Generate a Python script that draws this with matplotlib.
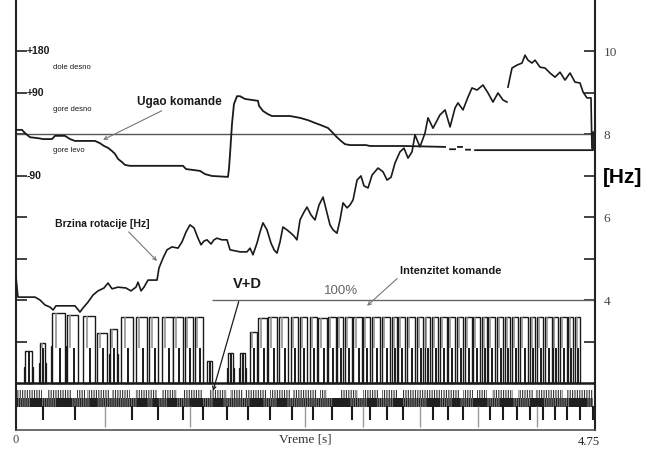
import numpy as np
import matplotlib
matplotlib.use("Agg")
import matplotlib.pyplot as plt
from matplotlib.patches import Rectangle

plt.rcParams["hatch.linewidth"] = 0.8

# ---- rotation speed [Hz] ----
speed_t = [0.000, 0.016, 0.156, 0.197, 0.238, 0.279, 0.304, 0.328, 0.484, 0.525,
           0.550, 0.591, 0.632, 0.673, 0.722, 0.755, 0.788, 0.837, 0.902, 0.943,
           0.984, 1.001, 1.026, 1.050, 1.083, 1.157, 1.173, 1.206, 1.239, 1.280,
           1.329, 1.362, 1.395, 1.427, 1.460, 1.493, 1.518, 1.542, 1.567, 1.600,
           1.624, 1.649, 1.690, 1.731, 1.756, 1.838, 1.895, 1.920, 1.944, 1.977,
           2.002, 2.026, 2.059, 2.092, 2.117, 2.141, 2.166, 2.190, 2.223, 2.256,
           2.281, 2.305, 2.330, 2.363, 2.387, 2.420, 2.453, 2.486, 2.519, 2.551,
           2.576, 2.601, 2.633, 2.658, 2.683, 2.716, 2.740, 2.765, 2.798, 2.830,
           2.855, 2.888, 2.921, 2.970, 3.011, 3.044, 3.077, 3.109, 3.150, 3.183,
           3.216, 3.249, 3.273, 3.314, 3.355, 3.380, 3.421, 3.478, 3.520, 3.561,
           3.602, 3.626, 3.667, 3.708, 3.741, 3.782, 3.831, 3.872, 3.913, 3.954,
           3.995, 4.028, 4.032, 4.036, 4.069, 4.110, 4.151, 4.176, 4.200, 4.233,
           4.258, 4.299, 4.340, 4.381, 4.422, 4.463, 4.504, 4.545, 4.586, 4.627,
           4.652, 4.684, 4.717, 4.725]
speed_hz = [4.55, 4.07, 4.07, 4.00, 3.88, 3.83, 3.76, 3.86, 3.86, 3.71,
            3.81, 3.95, 4.12, 4.22, 4.29, 4.41, 4.27, 4.31, 4.29, 4.22,
            4.31, 4.43, 4.22, 4.31, 4.48, 4.48, 4.77, 5.01, 5.21, 5.28,
            5.25, 5.40, 5.64, 5.81, 5.74, 5.49, 5.33, 5.42, 5.45, 5.35,
            5.45, 5.49, 5.45, 5.45, 5.21, 5.16, 5.16, 5.25, 5.09, 5.37,
            5.64, 5.86, 5.69, 5.37, 5.21, 5.13, 5.40, 5.76, 5.69, 5.61,
            5.54, 5.45, 5.93, 6.12, 6.24, 6.05, 5.93, 6.29, 6.48, 6.10,
            5.81, 5.69, 5.61, 5.93, 6.34, 6.22, 6.29, 6.41, 6.89, 6.99,
            6.75, 6.70, 7.01, 7.18, 7.09, 6.89, 6.96, 7.30, 7.57, 7.66,
            7.42, 7.57, 7.98, 7.69, 8.02, 8.39, 8.14, 8.46, 8.58, 8.17,
            8.63, 8.75, 8.58, 8.89, 9.11, 9.06, 9.18, 8.99, 8.77, 8.99,
            8.82, 8.77, np.nan, 9.13, 9.59, 9.66, 9.71, 9.90, 9.78, 9.71,
            9.78, 9.61, 9.59, 9.47, 9.37, 9.49, 9.30, 9.47, 9.25, 9.23,
            9.01, 8.87, 8.87, 7.66]

# ---- command angle [deg] ----
angle_t = [0.000, 0.049, 0.074, 0.115, 0.180, 0.222, 0.295, 0.320, 0.402, 0.443,
           0.484, 0.648, 0.689, 0.722, 0.755, 0.788, 0.812, 0.837, 0.870, 0.894,
           0.935, 1.370, 1.395, 1.510, 1.551, 1.608, 1.739, 1.747, 1.756, 1.772,
           1.788, 1.813, 1.838, 1.879, 1.985, 1.994, 2.026, 2.067, 2.100, 2.248,
           2.330, 2.396, 2.453, 2.494, 2.560, 2.601, 2.633, 2.666, 2.699, 2.740,
           2.871, 2.904, 2.986, 3.191, 3.520, 3.540, 3.561, 3.602, 3.614, 3.626,
           3.659, 3.675, 3.692, 3.725, 3.745, 3.766, 4.545, 4.627, 4.734, 4.734]
angle_deg = [9, 9, 2, -7, -9, -11, -11, -4, -4, -11,
             -15, -15, -20, -26, -30, -37, -43, -54, -61, -67,
             -69, -69, -76, -80, -87, -91, -93, -76, -43, 22,
             65, 82, 82, 76, 72, 61, 50, 43, 39, 39,
             35, 30, 24, 20, 13, 2, -7, -15, -22, -24,
             -24, -26, -26, -26, -28, np.nan, -33, -33, np.nan, -28,
             -28, np.nan, -34, -34, np.nan, -35, -35, -35, -35, 4]

# ---- command intensity pulses [%] ----
pulse_start = [0.074, 0.197, 0.295, 0.418, 0.550, 0.665, 0.771, 0.861, 0.984, 1.091,
               1.198, 1.288, 1.387, 1.469, 1.567, 1.739, 1.838, 1.920, 1.985, 2.067,
               2.158, 2.256, 2.330, 2.412, 2.478, 2.560, 2.633, 2.699, 2.765, 2.847,
               2.921, 3.003, 3.085, 3.134, 3.208, 3.290, 3.355, 3.413, 3.478, 3.544,
               3.618, 3.684, 3.749, 3.823, 3.872, 3.946, 4.012, 4.069, 4.135, 4.217,
               4.274, 4.340, 4.405, 4.463, 4.529, 4.586]
pulse_end = [0.131, 0.238, 0.402, 0.509, 0.648, 0.747, 0.829, 0.960, 1.075, 1.165,
             1.288, 1.370, 1.452, 1.534, 1.608, 1.780, 1.879, 1.977, 2.059, 2.141,
             2.231, 2.314, 2.387, 2.469, 2.551, 2.625, 2.683, 2.757, 2.839, 2.904,
             2.986, 3.068, 3.126, 3.191, 3.273, 3.339, 3.396, 3.462, 3.536, 3.602,
             3.667, 3.741, 3.807, 3.864, 3.930, 3.995, 4.053, 4.118, 4.200, 4.258,
             4.323, 4.397, 4.447, 4.520, 4.570, 4.627]
pulse_level = [38, 48, 84, 82, 81, 60, 65, 80, 80, 80,
               80, 80, 80, 80, 26, 36, 36, 61, 78, 80,
               80, 80, 80, 80, 78, 80, 80, 80, 80, 80,
               80, 80, 80, 80, 80, 80, 80, 80, 80, 80,
               80, 80, 80, 80, 80, 80, 80, 80, 80, 80,
               80, 80, 80, 80, 80, 79]
pedestal_start = [0.066, 0.189, 0.287, 0.763, 1.731, 1.830]
pedestal_end = [0.139, 0.246, 0.410, 0.837, 1.788, 1.887]
pedestal_level = [19, 24, 45, 35, 18, 18]

# ---- valve pulse train ----
comb_start = [0.008, 0.262, 0.500, 0.582, 0.788, 0.976, 1.198, 1.370, 1.592, 1.756,
              1.879, 2.084, 2.272, 2.494, 2.658, 2.847, 3.003, 3.167, 3.503, 3.667,
              3.782, 3.905, 4.118, 4.258, 4.520]
comb_end = [0.213, 0.459, 0.566, 0.771, 0.935, 1.157, 1.321, 1.534, 1.731, 1.862,
            2.059, 2.248, 2.469, 2.551, 2.806, 2.970, 3.134, 3.495, 3.643, 3.749,
            3.864, 4.077, 4.241, 4.488, 4.734]
block_start = [0.115, 0.336, 0.607, 0.993, 1.124, 1.239, 1.427, 1.616, 1.920, 2.141,
               2.601, 2.880, 3.093, 3.372, 3.577, 3.749, 3.971, 4.217, 4.545]
block_end = [0.213, 0.459, 0.665, 1.075, 1.165, 1.321, 1.534, 1.698, 2.026, 2.223,
             2.740, 2.962, 3.175, 3.478, 3.643, 3.864, 4.077, 4.323, 4.684]
spike_t = [0.222, 0.484, 0.952, 1.165, 1.370, 1.534, 1.731, 1.903, 2.084, 2.264,
           2.437, 2.592, 2.757, 2.904, 3.044, 3.175, 3.421, 3.544, 3.667, 3.889,
           3.995, 4.110, 4.217, 4.323, 4.422, 4.520, 4.627, 4.734]
faint_spike_t = [0.730, 1.427, 2.371, 2.847, 3.314, 3.790, 4.274]

# ---- axis labels ----
hz_ticks = [3, 4, 5, 6, 7, 8, 9, 10]
hz_tick_labels = ["", "4", "", "6", "[Hz]", "8", "", "10"]
angle_marks = [180, 90, -90]
angle_mark_labels = ["+180", "+90", "-90"]
quadrant_angles = [135, 45, -45]
quadrant_names = ["dole desno", "gore desno", "gore levo"]
t_end = 4.75


def angle_to_hz(a):
    return 8 + np.asarray(a, dtype=float) / 90.0


def pct_to_hz(p):
    return 2 + 2 * np.asarray(p, dtype=float) / 100.0


fig = plt.figure(figsize=(6.54, 4.54), dpi=100)
ax = fig.add_axes([16 / 654, 24 / 454, 579 / 654, 430 / 454])
ax.set_xlim(0, t_end)
ax.set_ylim(0.868, 11.229)

SANS = "Liberation Sans"
SERIF = "Liberation Serif"
INK = "#1a1a1a"

# zero-angle reference and the 100 % intensity line
ax.hlines(angle_to_hz(0), 0, t_end, color="#555", lw=1.0, zorder=2)
ax.hlines(pct_to_hz(100), 1.608, t_end, color="#666", lw=1.0, zorder=2)

# command angle
ax.plot(angle_t, angle_to_hz(angle_deg), color=INK, lw=1.3, zorder=4)

# rotation speed
ax.plot(speed_t, speed_hz, color=INK, lw=1.2, zorder=4)

# intensity pulses
base = pct_to_hz(0)
mid = pct_to_hz(42)
for t0, t1, lev in zip(pedestal_start, pedestal_end, pedestal_level):
    ax.add_patch(Rectangle((t0, base), t1 - t0, pct_to_hz(lev) - base,
                           facecolor="white", edgecolor=INK, lw=0.9, zorder=3))
for t0, t1, lev in zip(pulse_start, pulse_end, pulse_level):
    top = pct_to_hz(lev)
    ax.add_patch(Rectangle((t0, base), t1 - t0, top - base,
                           facecolor="white", edgecolor=INK, lw=1.0, zorder=3))
    w = t1 - t0
    ax.vlines(t0 + 0.62 * w, base, min(mid, top), color=INK, lw=1.4, zorder=3)
    if top > mid:
        ax.vlines(t0 + 0.3 * w, mid, top, color="#8a8a8a", lw=1.1, zorder=3)

# valve pulse train under the intensity trace
ax.hlines(base, 0, t_end, color=INK, lw=1.8, zorder=5)
for s, e in zip(comb_start, comb_end):
    ax.add_patch(Rectangle((s, 1.64), e - s, 0.19, facecolor="none",
                           edgecolor="#333", hatch="|" * 7, lw=0, zorder=3))
ax.add_patch(Rectangle((0.008, 1.42), 4.726, 0.22, facecolor="#8c8c8c",
                       edgecolor="#222", hatch="|" * 9, lw=0, zorder=3))
for s, e in zip(block_start, block_end):
    ax.add_patch(Rectangle((s, 1.42), e - s, 0.22, facecolor="#202020",
                           edgecolor="#202020", lw=0, zorder=3))
ax.vlines(spike_t, 1.11, 1.45, color=INK, lw=1.5, zorder=3)
ax.vlines(faint_spike_t, 0.95, 1.45, color="#9a9a9a", lw=1.0, zorder=3)

# axes frame and ticks
ax.spines["top"].set_visible(False)
for side in ("left", "right"):
    ax.spines[side].set_linewidth(1.5)
    ax.spines[side].set_color("#222")
ax.spines["bottom"].set_linewidth(1.2)
ax.spines["bottom"].set_color("#555")
ax.set_xticks([])
ax.set_yticks(hz_ticks)
ax.set_yticklabels(hz_tick_labels)
ax.tick_params(axis="y", direction="in", left=True, right=True,
               labelleft=False, labelright=True, length=8, width=1.2,
               color="#222", pad=6)
for tick in ax.yaxis.get_major_ticks():
    lab = tick.label2
    if lab.get_text() == "[Hz]":
        lab.set_fontfamily(SANS)
        lab.set_fontweight("bold")
        lab.set_fontsize(15)
        lab.set_color("black")
    else:
        lab.set_fontfamily(SERIF)
        lab.set_fontsize(9.5)
        lab.set_color("#444")

# angle scale on the left edge
for a, s in zip(angle_marks, angle_mark_labels):
    ax.text(0.09, angle_to_hz(a), s, ha="left", va="center", fontsize=7.5,
            fontweight="bold", family=SANS, color=INK)
for a, s in zip(quadrant_angles, quadrant_names):
    ax.text(0.30, angle_to_hz(a) + 0.1, s, ha="left", va="center", fontsize=5.5,
            family=SANS, color=INK)

# annotations
arrow = dict(arrowstyle="->", color="#777", lw=0.8, shrinkA=0, shrinkB=0,
             mutation_scale=6)
ax.annotate("Ugao komande", xy=(0.714, 7.86), xytext=(0.993, 8.77),
            fontsize=8.5, fontweight="bold", family=SANS, color=INK,
            ha="left", va="center", arrowprops=arrow)
ax.annotate("Brzina rotacije [Hz]", xy=(1.157, 4.94), xytext=(0.320, 5.83),
            fontsize=7.5, fontweight="bold", family=SANS, color=INK,
            ha="left", va="center",
            arrowprops=dict(arrow, relpos=(0.75, 0.0)))
ax.annotate("Intenzitet komande", xy=(2.880, 3.86), xytext=(3.150, 4.70),
            fontsize=8, fontweight="bold", family=SANS, color=INK,
            ha="left", va="center",
            arrowprops=dict(arrow, relpos=(0.0, 0.0)))
ax.annotate("V+D", xy=(1.616, 1.81), xytext=(1.90, 4.39),
            fontsize=10.5, fontweight="bold", family=SANS, color=INK,
            ha="center", va="center",
            arrowprops=dict(arrowstyle="->", color=INK, lw=0.9,
                            mutation_scale=6, shrinkA=6, shrinkB=0,
                            relpos=(0.3, 0.0)))
ax.text(2.666, 4.22, "100%", ha="center", va="center", fontsize=9.5,
        family=SANS, color="#666")

# time axis text
xt = ax.get_xaxis_transform()
ax.text(0, -0.023, "0", transform=xt, ha="center", va="center",
        fontsize=9, family=SERIF, color="#444")
ax.text(4.70, -0.027, "4.75", transform=xt, ha="center", va="center",
        fontsize=9, family=SERIF, color="#222")
ax.text(2.37, -0.023, "Vreme [s]", transform=xt, ha="center", va="center",
        fontsize=9.5, family=SERIF, color="#333")

fig.savefig("out.png", dpi=100)
